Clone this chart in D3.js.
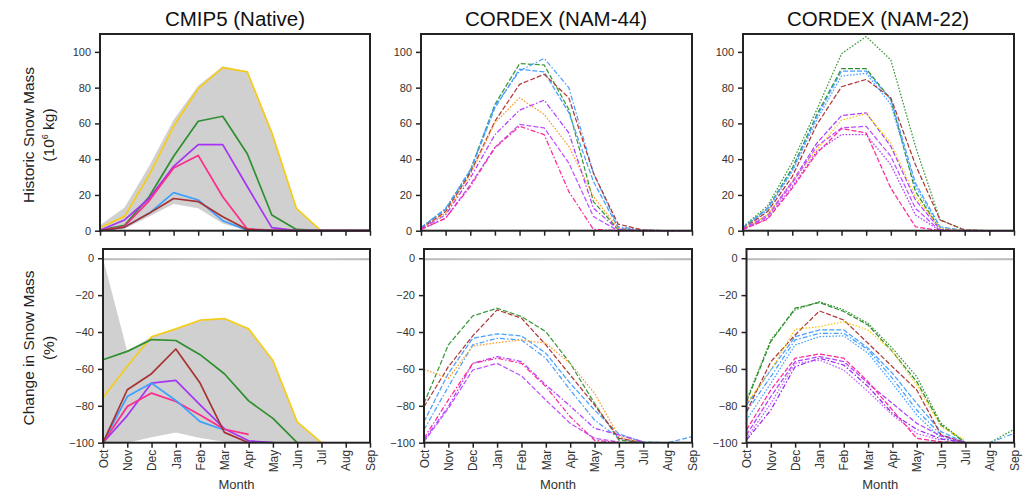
<!DOCTYPE html>
<html>
<head>
<meta charset="utf-8">
<script src="https://cdn.jsdelivr.net/npm/d3@7"></script>
<style>
  body { margin: 0; background: #fff; }
  svg { font-family: "Liberation Sans", Arial, sans-serif; }
  .tick text { fill: #333; }
</style>
</head>
<body>
<svg id="chart" width="1030" height="496"></svg>
<script>
const months = ["Oct","Nov","Dec","Jan","Feb","Mar","Apr","May","Jun","Jul","Aug","Sep"];
const histTicks = [0, 20, 40, 60, 80, 100];
const chgTicks = [-100, -80, -60, -40, -20, 0];

// CMIP5 native: historic snow mass (10^6 kg)
const cmipHist = [
  [1.7, 8, 31, 58.4, 79.4, 91.2, 88.8, 54.7, 12.5, 0, 0, 0],
  [0.4, 3, 19, 41.6, 61.2, 64, 43, 8.8, 0.7, 0, 0, 0],
  [0.3, 6, 18, 36, 48.1, 48.1, 24.7, 1.7, 0, 0, 0, 0],
  [0, 2.5, 16.7, 35, 42.1, 19, 1, 0.3, 0, 0, 0, 0],
  [0, 2, 9.7, 21.3, 17.2, 5.6, 0.3, 0, 0, 0, 0, 0],
  [0, 2, 9.7, 18, 16.3, 7.8, 0.7, 0, 0, 0, 0, 0]
];
const cmipHistBandHi = [3, 13, 36, 62, 81, 92, 89, 56, 13, 0, 0, 0];
const cmipHistBandLo = [0, 1, 8, 15, 12.5, 4, 0, 0, 0, 0, 0, 0];

// CMIP5 native: change in snow mass (%)
const cmipChg = [
  [-75.5, -58.6, -42.6, -38.3, -33.6, -32.7, -38.3, -55.5, -88.7, -100, null, null],
  [-55, -50.5, -44.1, -44.6, -52.3, -62.6, -77.3, -86.8, -100, null, null, null],
  [-100, -85.3, -67.7, -66.2, -79.5, -92.4, -99, -100, null, null, null, null],
  [-100, -80.4, -73.1, -77.7, -85, -92.7, -95.5, null, null, null, null, null],
  [-100, -75, -67.7, -77.1, -88.6, -93.1, null, null, null, null, null, null],
  [-100, -71.3, -62.6, -49.2, -67.7, -94.4, -100, null, null, null, null, null]
];
const cmipChgBandHi = [0, -50.5, -42.6, -38.3, -33.6, -32.7, -38.3, -55.5, -88.7, -100, null, null];
const cmipChgBandLo = [-100, -100, -97, -94.5, -97.5, -99.5, -100, -100, -100, -100, null, null];

// CORDEX NAM-44
const nam44Hist = [
  [1.7, 12, 33.7, 70.6, 93.4, 92.7, 67.8, 16.3, 0.7, 0, 0, 0],
  [1.7, 12.5, 34, 69.7, 89.3, 96.4, 80, 32.2, 2.2, 0.4, 0, 0],
  [1.5, 12, 33, 68.7, 90.3, 88.8, 66, 27.5, 1.7, 0, 0, 0],
  [1.1, 10.7, 32.2, 61.2, 81.8, 87.5, 74.3, 32.2, 3.7, 0.4, 0, 0],
  [1.1, 9.7, 31.3, 60.3, 74.3, 65, 47.2, 19.1, 1.3, 0, 0, 0],
  [1.1, 8.8, 29.4, 53.7, 67.4, 73, 54.7, 12.5, 0.7, 0, 0, 0],
  [0.7, 7, 25.7, 46.6, 59.4, 57.5, 37.8, 7.9, 0, 0, 0, 0],
  [0.7, 7, 24.7, 46.3, 58.4, 53.7, 21.9, 0.7, 0, 0, 0, 0]
];
const nam44Chg = [
  [-78.7, -47, -31.3, -27.1, -31.6, -39.8, -57, -78.7, -98.6, -100, null, null],
  [-88.6, -62.4, -43.4, -41, -42.1, -51.5, -67.8, -82.3, -95.3, -99.6, -100, -96.7],
  [-93, -69.6, -47, -43.4, -44.3, -54.2, -71.4, -87.7, -97.6, -100, null, null],
  [-80.5, -58.8, -42.1, -28, -32.5, -47, -63.3, -79.6, -97.6, -100, null, null],
  [-60.2, -65.1, -47.6, -45.8, -44.3, -46.1, -57, -73.2, -96.7, -100, null, null],
  [-98.6, -80.5, -57, -53.3, -56, -68.7, -80.1, -92.2, -95.8, -99.5, null, null],
  [-99.5, -81.4, -60.6, -57, -63.8, -76.9, -89.5, -97.6, -99.6, null, null, null],
  [-97.6, -76.8, -57, -54.2, -57, -69.6, -85.9, -98.7, -100, null, null, null]
];

// CORDEX NAM-22
const nam22Hist = [
  [2.2, 13.9, 38.2, 67.8, 99, 108.6, 95.5, 47.2, 6, 0.4, 0, 0],
  [1.7, 12.5, 35, 65, 90.6, 90.6, 73.4, 21.9, 0.7, 0, 0, 0],
  [1.7, 12.5, 34, 64, 89.3, 89.3, 73.4, 26.6, 2.2, 0, 0, 0],
  [1.7, 11.6, 33.1, 62.2, 86.5, 88, 70.6, 24.7, 1.8, 0, 0, 0],
  [1.1, 10.7, 30.3, 59.4, 80.5, 84.6, 74.3, 36.9, 6, 0.4, 0, 0],
  [1.1, 8.8, 27.5, 49, 64.4, 65.9, 47.2, 17.2, 0.7, 0, 0, 0],
  [1.1, 8.8, 27.5, 45.3, 61.8, 65.4, 49, 19.1, 1.3, 0, 0, 0],
  [0.7, 7.9, 26.6, 47.2, 57.5, 58.4, 41.6, 12.5, 0, 0, 0, 0],
  [0.7, 7, 24.7, 44.4, 53.7, 53.7, 36.9, 8.8, 0, 0, 0, 0],
  [0.7, 6.4, 23.8, 43.4, 57.1, 54.7, 23.8, 2.2, 0, 0, 0, 0]
];
const nam22Chg = [
  [-76.9, -44.3, -28, -23.5, -28, -35.3, -48.8, -64.2, -89.5, -100, -100, -92.8],
  [-77.8, -45.2, -27.1, -24, -28.9, -36.2, -50.6, -66.9, -90.4, -100, null, null],
  [-79.6, -60.6, -42.5, -38.9, -38.9, -48.8, -62.4, -78.7, -94, -100, null, null],
  [-83.2, -64.2, -44.3, -40.7, -40.7, -49.7, -65.1, -82.3, -95.8, -100, -100, -95],
  [-87.7, -67.8, -47, -42.5, -42.1, -51.5, -67.8, -85, -97.6, -100, null, null],
  [-83.2, -56.1, -41.6, -28.6, -33.5, -46.1, -58.8, -71.4, -95.8, -100, null, null],
  [-78.7, -60.6, -38.5, -37.1, -34.4, -38.9, -50.6, -68.7, -91.3, -98.6, null, null],
  [-95.8, -75, -56, -53.3, -56, -67.8, -78.7, -89.5, -96.4, -100, null, null],
  [-98.6, -82.3, -58.8, -54.2, -57.9, -69.6, -84.1, -92.8, -98, -100, null, null],
  [-97.7, -78.7, -57, -55.2, -60.6, -72.3, -85, -95, -98.6, null, null, null],
  [-93.1, -71.4, -54.2, -51.9, -54.2, -66.9, -82.3, -97.6, -99.5, -100, null, null]
];

// styles (kept apart from the values)
const dash = "5,2", dot = "1.6,1.6", dashdot = "5,2,1.5,2";
const cmipStyle = [
  { c: "#f5cc1a" }, { c: "#2f8f2f" }, { c: "#a633f5" },
  { c: "#ff2a8a" }, { c: "#3ca0ff" }, { c: "#a83232" }
];
const nam44HistStyle = [
  { c: "#3a9a3a", d: dash }, { c: "#4aa0ff", d: dashdot }, { c: "#4aa0ff", d: dash },
  { c: "#b03a3a", d: dash }, { c: "#ff9a2a", d: dot }, { c: "#b040ff", d: dashdot },
  { c: "#c050ff", d: dash }, { c: "#ff2a9a", d: dashdot }
];
const nam44ChgStyle = [
  { c: "#3a9a3a", d: dash }, { c: "#4aa0ff", d: dash }, { c: "#4aa0ff", d: dashdot },
  { c: "#b03a3a", d: dash }, { c: "#ff9a2a", d: dot }, { c: "#b040ff", d: dashdot },
  { c: "#c050ff", d: dash }, { c: "#ff2a9a", d: dashdot }
];
const nam22HistStyle = [
  { c: "#3a9a3a", d: dot }, { c: "#2f8f2f", d: dash }, { c: "#4aa0ff", d: dash },
  { c: "#4aa0ff", d: dot }, { c: "#b03a3a", d: dash }, { c: "#b040ff", d: dash },
  { c: "#f5cc1a", d: dot }, { c: "#c050ff", d: dash }, { c: "#b040ff", d: dot },
  { c: "#ff2a9a", d: dash }
];
const nam22ChgStyle = [
  { c: "#3a9a3a", d: dot }, { c: "#2f8f2f", d: dash }, { c: "#4aa0ff", d: dash },
  { c: "#4aa0ff", d: dashdot }, { c: "#4aa0ff", d: dot }, { c: "#b03a3a", d: dash },
  { c: "#f5cc1a", d: dot }, { c: "#b040ff", d: dash }, { c: "#9a2af0", d: dashdot },
  { c: "#c060ff", d: dot }, { c: "#ff2a9a", d: dash }
];

const svg = d3.select("#chart");

// soft gradient for the thin zero band in the change panels
const defs = svg.append("defs");
const grad = defs.append("linearGradient").attr("id", "zeroGrad");
grad.append("stop").attr("offset", "0%").attr("stop-color", "#b8b8b8");
grad.append("stop").attr("offset", "50%").attr("stop-color", "#d4d4d4");
grad.append("stop").attr("offset", "100%").attr("stop-color", "#b8b8b8");

const panels = [
  { title: "CMIP5 (Native)", cx: 235, top: [100, 370], bot: [103, 370], hist: cmipHist, chg: cmipChg,
    hs: cmipStyle, cs: cmipStyle, band: true, width: 1.7 },
  { title: "CORDEX (NAM-44)", cx: 556, top: [421, 692], bot: [424, 692], hist: nam44Hist, chg: nam44Chg,
    hs: nam44HistStyle, cs: nam44ChgStyle, width: 1.25 },
  { title: "CORDEX (NAM-22)", cx: 878, top: [743, 1014], bot: [746.5, 1014], hist: nam22Hist, chg: nam22Chg,
    hs: nam22HistStyle, cs: nam22ChgStyle, width: 1.25 }
];

function drawPanel(p, range, yRange, domain, ticks, series, styles, bandHi, bandLo, zeroLine, showMonths) {
  const x = d3.scalePoint().domain(months).range(range);
  const y = d3.scaleLinear().domain(domain).range(yRange);
  const g = svg.append("g");

  if (bandHi) {
    const area = d3.area()
      .defined((d, i) => bandHi[i] != null)
      .x((d, i) => x(months[i]))
      .y0((d, i) => y(bandLo[i]))
      .y1((d, i) => y(bandHi[i]));
    g.append("path").datum(bandHi).attr("d", area).attr("fill", "#d0d0d0");
  }

  if (zeroLine) {
    g.append("rect")
      .attr("x", range[0]).attr("width", range[1] - range[0])
      .attr("y", y(0)).attr("height", 2)
      .attr("fill", "url(#zeroGrad)");
  }

  const line = d3.line()
    .defined(d => d != null)
    .x((d, i) => x(months[i]))
    .y(d => y(d));

  series.forEach((s, i) => {
    g.append("path")
      .datum(s)
      .attr("d", line)
      .attr("fill", "none")
      .attr("stroke", styles[i].c)
      .attr("stroke-width", p.width)
      .attr("stroke-dasharray", styles[i].d || null)
      .attr("stroke-linejoin", "round");
  });

  // axes
  const yAxis = d3.axisLeft(y).tickValues(ticks).tickSize(5).tickPadding(4);
  const yg = g.append("g").attr("transform", `translate(${range[0]},0)`).call(yAxis);
  yg.select(".domain").remove();
  yg.selectAll("line").attr("stroke", "#222").attr("stroke-width", 1.5);
  yg.selectAll("text").attr("font-size", 11).attr("font-family", "Liberation Sans, Arial, sans-serif");

  const xAxis = d3.axisBottom(x).tickSize(5).tickFormat(showMonths ? null : "");
  const xg = g.append("g").attr("transform", `translate(0,${yRange[0]})`).call(xAxis);
  xg.select(".domain").remove();
  xg.selectAll("line").attr("stroke", "#222").attr("stroke-width", 1.5);
  if (showMonths) {
    xg.selectAll("text")
      .attr("font-size", 12)
      .attr("font-family", "Liberation Sans, Arial, sans-serif")
      .attr("transform", "rotate(-90)")
      .attr("text-anchor", "end")
      .attr("x", -7).attr("y", 0).attr("dy", "0.35em");
  }

  // frame
  g.append("rect")
    .attr("x", range[0]).attr("y", yRange[1])
    .attr("width", range[1] - range[0]).attr("height", yRange[0] - yRange[1])
    .attr("fill", "none").attr("stroke", "#222").attr("stroke-width", 2);
}

panels.forEach(p => {
  svg.append("text")
    .attr("x", p.cx).attr("y", 26)
    .attr("text-anchor", "middle")
    .attr("font-size", 20.5)
    .attr("fill", "#111")
    .text(p.title);

  drawPanel(p, p.top, [230.7, 34], [0, 110], histTicks, p.hist, p.hs,
    p.band ? cmipHistBandHi : null, cmipHistBandLo, false, false);
  drawPanel(p, p.bot, [442.7, 249], [-100, 5], chgTicks, p.chg, p.cs,
    p.band ? cmipChgBandHi : null, cmipChgBandLo, true, true);

  svg.append("text")
    .attr("x", (p.bot[0] + p.bot[1]) / 2).attr("y", 489)
    .attr("text-anchor", "middle")
    .attr("font-size", 13)
    .attr("fill", "#333")
    .text("Month");
});

// y axis titles
function yTitle(cy, line1) {
  const t = svg.append("text")
    .attr("transform", `translate(34,${cy}) rotate(-90)`)
    .attr("text-anchor", "middle")
    .attr("font-size", 15.5)
    .attr("fill", "#222");
  t.append("tspan").attr("x", 0).attr("y", 0).text(line1);
  return t.append("tspan").attr("x", 0).attr("y", 20);
}
const l1 = yTitle(135, "Historic Snow Mass");
l1.append("tspan").text("(10");
l1.append("tspan").attr("font-size", 9).attr("dy", -6).text("6");
l1.append("tspan").attr("dy", 6).text(" kg)");
const l2 = yTitle(348, "Change in Snow Mass");
l2.text("(%)");
</script>
</body>
</html>
